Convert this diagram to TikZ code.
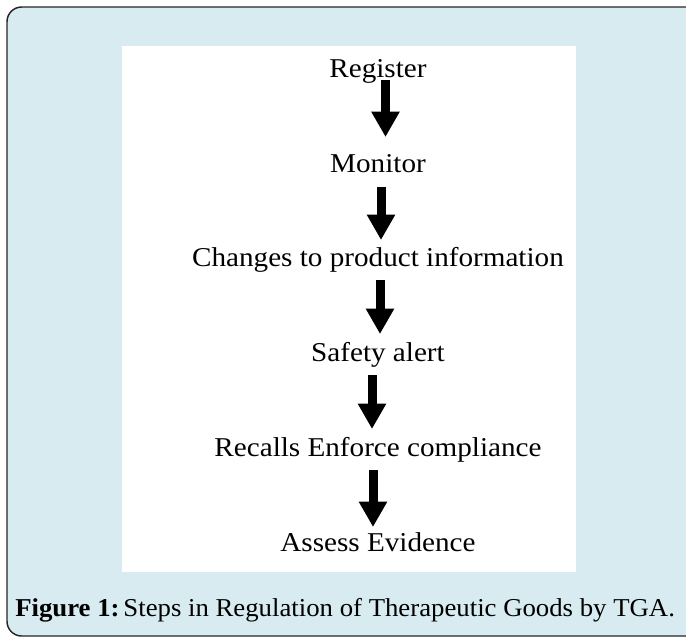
\documentclass[tikz,border=0pt]{standalone}
\usepackage{fontspec}
\setmainfont{Liberation Serif}
\newfontfamily\stepfont[FakeStretch=1.072]{Liberation Serif}
\newfontfamily\capfont[FakeStretch=1.04]{Liberation Serif}
\usetikzlibrary{arrows.meta}
\definecolor{panelblue}{RGB}{216,235,241}
\begin{document}
\begin{tikzpicture}[x=0.75pt,y=-0.75pt,
  steptext/.style={anchor=base,inner sep=0pt,font=\stepfont\fontsize{20.4pt}{24pt}\selectfont},
  flowarrow/.style={line width=6.75pt,-{Triangle[width=20pt,length=19pt]}}]
\useasboundingbox (0,0) rectangle (686,637);
% panel and white drawing area
\draw[fill=panelblue,draw=black!85,line width=1.1pt,rounded corners=11pt] (7,7) rectangle (720,636);
\fill[white] (122,46) rectangle (576,572);
% steps
\node[steptext] (s1) at (378,77) {Register};
\node[steptext] (s2) at (378,172) {Monitor};
\node[steptext] (s3) at (378,266) {Changes to product information};
\node[steptext] (s4) at (378,361) {Safety alert};
\node[steptext] (s5) at (378,456) {Recalls Enforce compliance};
\node[steptext] (s6) at (378,551) {Assess Evidence};
% arrow end points
\coordinate (a1s) at (385.5,80);  \coordinate (a1e) at (385.5,137);
\coordinate (a2s) at (381,187);   \coordinate (a2e) at (381,240);
\coordinate (a3s) at (380,280);   \coordinate (a3e) at (380,334);
\coordinate (a4s) at (372,375);   \coordinate (a4e) at (372,429);
\coordinate (a5s) at (373,470);   \coordinate (a5e) at (373,527);
\foreach \i in {1,...,5}{\draw[flowarrow] (a\i s) -- (a\i e);}
% caption
\node[anchor=base west,inner sep=0pt,font=\capfont\fontsize{19.3pt}{23pt}\selectfont] (cap) at (15,616)
  {\textbf{Figure 1:}\hspace{0.15em}Steps in Regulation of Therapeutic Goods by TGA.};
\end{tikzpicture}
\end{document}
